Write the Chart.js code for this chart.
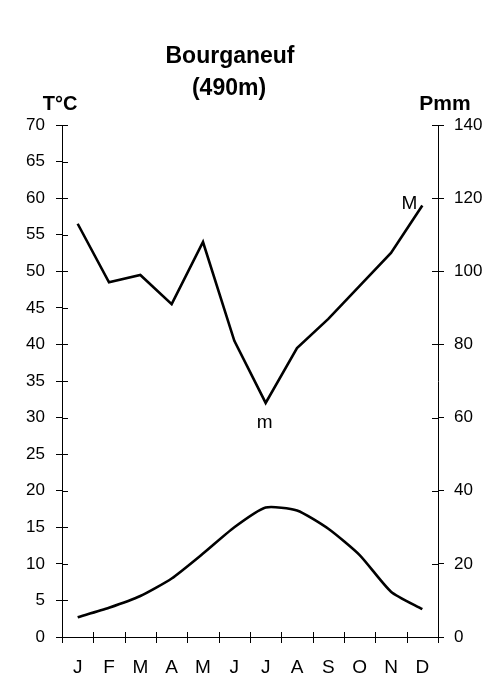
<!DOCTYPE html>
<html>
<head>
<meta charset="utf-8">
<script src="https://cdn.jsdelivr.net/npm/chart.js@4/dist/chart.umd.min.js"></script>
<style>
  html, body { margin: 0; padding: 0; background: #fff; }
  #wrap { width: 496px; height: 682px; }
</style>
</head>
<body>
<div id="wrap"><canvas id="climChart" width="496" height="682"></canvas></div>
<script>
// data
var months = ["J", "F", "M", "A", "M", "J", "J", "A", "S", "O", "N", "D"];
var temperature = [2.7, 4.0, 5.6, 8.0, 11.4, 15.0, 17.7, 17.3, 14.8, 11.2, 6.2, 3.8];
var precipitation = [113, 97, 99, 91, 108, 81, 64, 79, 87, 96, 105, 118];
var titleLines = ["Bourganeuf", "(490m)"];

var FONT = "'Liberation Sans', Arial, sans-serif";

// ticks that cross the axis lines + the texts around the plot
var decoPlugin = {
    id: "deco",
    afterDraw: function (chart) {
        var ctx = chart.ctx;
        var x = chart.scales.x, y = chart.scales.y, y1 = chart.scales.y1;
        var area = chart.chartArea;
        ctx.save();
        ctx.strokeStyle = "#000";
        ctx.lineWidth = 1;
        ctx.beginPath();
        y.ticks.forEach(function (t) {
            var py = Math.round(y.getPixelForValue(t.value)) + 0.5;
            ctx.moveTo(area.left, py);
            ctx.lineTo(area.left + 6, py);
        });
        y1.ticks.forEach(function (t) {
            var py = Math.round(y1.getPixelForValue(t.value)) + 0.5;
            ctx.moveTo(area.right - 6, py);
            ctx.lineTo(area.right, py);
        });
        for (var i = 0; i <= months.length; i++) {
            var px = Math.round(x.getPixelForValue(i - 0.5)) + 0.5;
            ctx.moveTo(px, area.bottom - 5);
            ctx.lineTo(px, area.bottom + 6);
        }
        ctx.stroke();

        ctx.fillStyle = "#000";
        ctx.textAlign = "center";
        ctx.textBaseline = "alphabetic";
        ctx.font = "bold 23px " + FONT;
        ctx.fillText(titleLines[0], 230, 63);
        ctx.fillText(titleLines[1], 229, 95);
        ctx.font = "bold 20px " + FONT;
        ctx.fillText("T°C", 60, 110);
        ctx.font = "bold 21px " + FONT;
        ctx.fillText("Pmm", 445, 110);

        // min / max of precipitation
        var iMin = precipitation.indexOf(Math.min.apply(null, precipitation));
        var iMax = precipitation.indexOf(Math.max.apply(null, precipitation));
        ctx.font = "19px " + FONT;
        var mx = x.getPixelForValue(iMin), my = y1.getPixelForValue(precipitation[iMin]);
        ctx.fillText("m", mx - 1, my + 25);
        var Mx = x.getPixelForValue(iMax), My = y1.getPixelForValue(precipitation[iMax]);
        ctx.textAlign = "right";
        ctx.fillText("M", Mx - 5, My + 4);
        ctx.restore();
    }
};

var ctx = document.getElementById("climChart").getContext("2d");
var climChart = new Chart(ctx, {
    type: "line",
    data: {
        labels: months,
        datasets: [{
            label: "T",
            data: temperature,
            yAxisID: "y",
            borderColor: "#000",
            borderWidth: 2.6,
            pointRadius: 0,
            tension: 0.2,
        }, {
            label: "P",
            data: precipitation,
            yAxisID: "y1",
            borderColor: "#000",
            borderWidth: 2.6,
            pointRadius: 0,
            tension: 0,
        }],
    },
    options: {
        responsive: false,
        animation: false,
        layout: { padding: { top: 125, left: 0, right: 0, bottom: 0 } },
        plugins: {
            legend: { display: false },
            tooltip: { enabled: false },
            title: { display: false },
        },
        scales: {
            x: {
                offset: true,
                grid: { display: false, offset: true },
                border: { color: "#000", width: 1 },
                ticks: { color: "#000", font: { family: FONT, size: 19 }, padding: 11, maxRotation: 0, autoSkip: false },
                afterFit: function (s) { s.height = 45; },
            },
            y: {
                position: "left",
                min: 0,
                max: 70,
                ticks: { stepSize: 5, color: "#000", font: { family: FONT, size: 17 }, padding: 11 },
                grid: { drawOnChartArea: false, tickLength: 6, color: "#000" },
                border: { color: "#000", width: 1 },
                afterFit: function (s) { s.width = 62; },
            },
            y1: {
                position: "right",
                min: 0,
                max: 140,
                ticks: { stepSize: 20, color: "#000", font: { family: FONT, size: 17 }, padding: 10 },
                grid: { drawOnChartArea: false, tickLength: 6, color: "#000" },
                border: { color: "#000", width: 1 },
                afterFit: function (s) { s.width = 58; },
            },
        },
    },
    plugins: [decoPlugin],
});
</script>
</body>
</html>
